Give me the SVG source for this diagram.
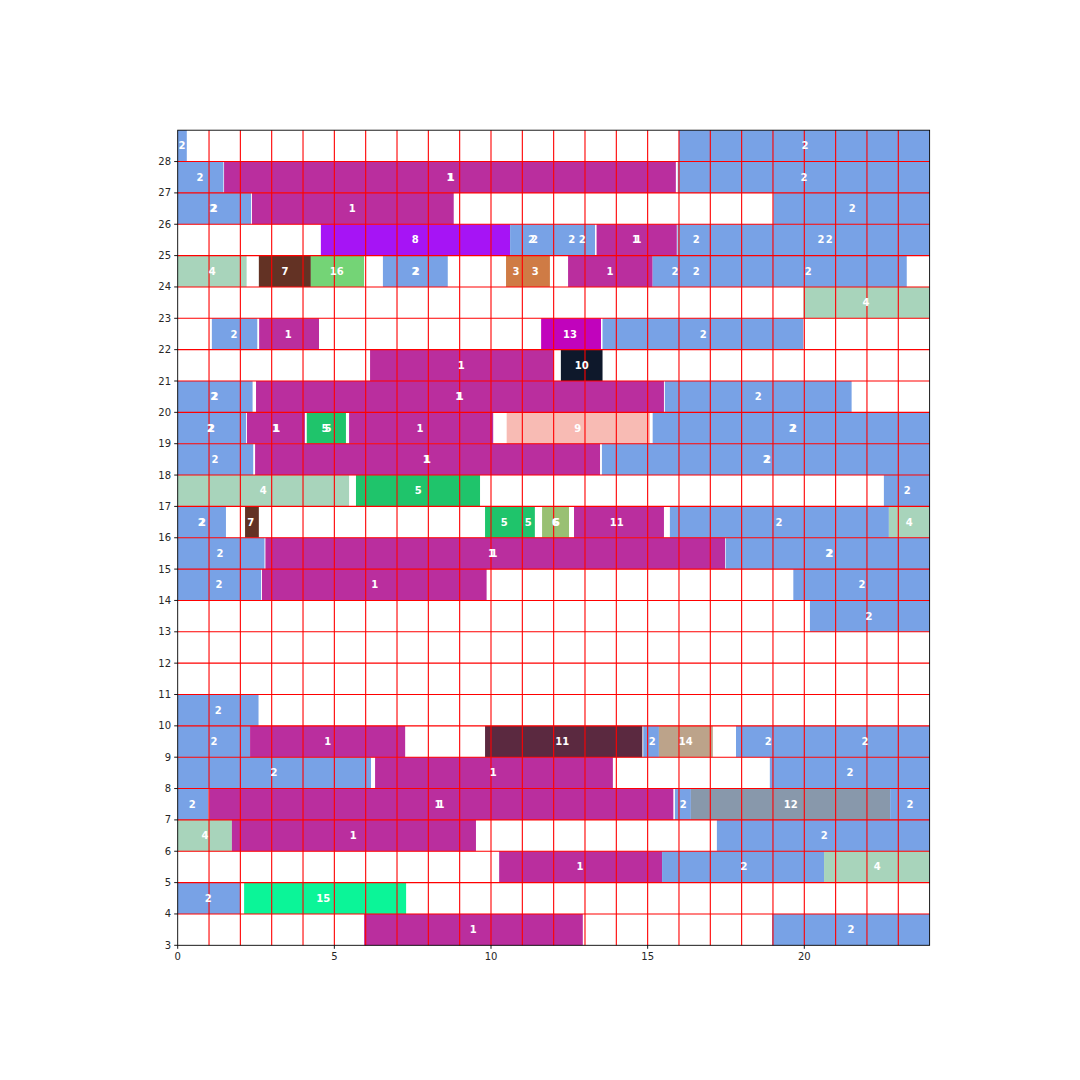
<svg xmlns="http://www.w3.org/2000/svg" width="1080" height="1080" viewBox="0 0 1080 1080">
<style>
.b{fill:#78a2e6}.m{fill:#ba2e9e}.lg{fill:#a8d4bb}.br{fill:#633224}.g16{fill:#74d476}.or{fill:#cf7b45}.vi{fill:#a614f5}.m13{fill:#c103bc}.nv{fill:#0e182b}.sa{fill:#f8bbb4}.g5{fill:#1fc46b}.ol{fill:#99c073}.wi{fill:#5b2940}.tn{fill:#bca38a}.sl{fill:#8898ab}.sp{fill:#0bf598}
text{font-family:"DejaVu Sans","Liberation Sans",sans-serif;font-size:10px}
.l{font-weight:bold;fill:#fff;text-anchor:middle;dominant-baseline:central}
.ty{fill:#262626;text-anchor:end;dominant-baseline:central}
.tx{fill:#262626;text-anchor:middle}
</style>
<rect x="0" y="0" width="1080" height="1080" fill="#fff"/>
<g id="nodes">
<g id="r28a"><rect class="b" x="177.7" y="130.2" width="9.1" height="31.35"/></g>
<g id="r28b"><rect class="b" x="678.98" y="130.2" width="250.64" height="31.35"/></g>
<g id="r27a"><rect class="b" x="177.7" y="161.55" width="45.74" height="31.35"/></g>
<g id="r27b"><rect class="m" x="224.07" y="161.55" width="451.78" height="31.35"/></g>
<g id="r27c"><rect class="b" x="677.73" y="161.55" width="251.89" height="31.35"/></g>
<g id="r26a"><rect class="b" x="177.7" y="192.9" width="73.31" height="31.35"/></g>
<g id="r26b"><rect class="m" x="251.95" y="192.9" width="201.77" height="31.35"/></g>
<g id="r26c"><rect class="b" x="773.28" y="192.9" width="156.34" height="31.35"/></g>
<g id="r25a"><rect class="vi" x="320.88" y="224.25" width="189.23" height="31.35"/></g>
<g id="r25b"><rect class="b" x="510.11" y="224.25" width="84.91" height="31.35"/></g>
<g id="r25c"><rect class="m" x="596.58" y="224.25" width="80.21" height="31.35"/></g>
<g id="r25d"><rect class="b" x="677.41" y="224.25" width="252.21" height="31.35"/></g>
<g id="r24a"><rect class="lg" x="177.7" y="255.6" width="68.93" height="31.35"/></g>
<g id="r24b"><rect class="br" x="258.84" y="255.6" width="52.01" height="31.35"/></g>
<g id="r24c"><rect class="g16" x="310.85" y="255.6" width="53.26" height="31.35"/></g>
<g id="r24d"><rect class="b" x="382.91" y="255.6" width="64.85" height="31.35"/></g>
<g id="r24e"><rect class="or" x="506.04" y="255.6" width="43.86" height="31.35"/></g>
<g id="r24f"><rect class="m" x="568.07" y="255.6" width="84.59" height="31.35"/></g>
<g id="r24g"><rect class="b" x="652.66" y="255.6" width="254.09" height="31.35"/></g>
<g id="r23a"><rect class="lg" x="803.36" y="286.95" width="126.26" height="31.35"/></g>
<g id="r22a"><rect class="b" x="211.85" y="318.3" width="45.43" height="31.35"/></g>
<g id="r22b"><rect class="m" x="259.16" y="318.3" width="59.84" height="31.35"/></g>
<g id="r22c"><rect class="m13" x="541.13" y="318.3" width="59.84" height="31.35"/></g>
<g id="r22d"><rect class="b" x="602.53" y="318.3" width="200.83" height="31.35"/></g>
<g id="r21a"><rect class="m" x="370.07" y="349.65" width="183.9" height="31.35"/></g>
<g id="r21b"><rect class="nv" x="560.87" y="349.65" width="41.66" height="31.35"/></g>
<g id="r20a"><rect class="b" x="177.7" y="381" width="74.88" height="31.35"/></g>
<g id="r20b"><rect class="m" x="256.03" y="381" width="407.91" height="31.35"/></g>
<g id="r20c"><rect class="b" x="664.88" y="381" width="186.73" height="31.35"/></g>
<g id="r19a"><rect class="b" x="177.7" y="412.35" width="68.3" height="31.35"/></g>
<g id="r19b"><rect class="m" x="246.94" y="412.35" width="57.96" height="31.35"/></g>
<g id="r19c"><rect class="g5" x="306.78" y="412.35" width="39.16" height="31.35"/></g>
<g id="r19d"><rect class="m" x="349.08" y="412.35" width="144.11" height="31.35"/></g>
<g id="r19e"><rect class="sa" x="506.67" y="412.35" width="143.17" height="31.35"/></g>
<g id="r19f"><rect class="b" x="652.66" y="412.35" width="276.96" height="31.35"/></g>
<g id="r18a"><rect class="b" x="177.7" y="443.7" width="75.51" height="31.35"/></g>
<g id="r18b"><rect class="m" x="255.09" y="443.7" width="344.94" height="31.35"/></g>
<g id="r18c"><rect class="b" x="601.91" y="443.7" width="327.71" height="31.35"/></g>
<g id="r17a"><rect class="lg" x="177.7" y="475.05" width="171.38" height="31.35"/></g>
<g id="r17b"><rect class="g5" x="355.97" y="475.05" width="124.06" height="31.35"/></g>
<g id="r17c"><rect class="b" x="883.88" y="475.05" width="45.74" height="31.35"/></g>
<g id="r16a"><rect class="b" x="177.7" y="506.4" width="48.25" height="31.35"/></g>
<g id="r16b"><rect class="br" x="245.06" y="506.4" width="13.78" height="31.35"/></g>
<g id="r16c"><rect class="g5" x="485.05" y="506.4" width="49.81" height="31.35"/></g>
<g id="r16d"><rect class="ol" x="542.07" y="506.4" width="26.94" height="31.35"/></g>
<g id="r16e"><rect class="m" x="574.02" y="506.4" width="89.92" height="31.35"/></g>
<g id="r16f"><rect class="b" x="669.89" y="506.4" width="219" height="31.35"/></g>
<g id="r16g"><rect class="lg" x="888.89" y="506.4" width="40.73" height="31.35"/></g>
<g id="r15a"><rect class="b" x="177.7" y="537.75" width="86.78" height="31.35"/></g>
<g id="r15b"><rect class="m" x="265.42" y="537.75" width="459.62" height="31.35"/></g>
<g id="r15c"><rect class="b" x="725.66" y="537.75" width="203.96" height="31.35"/></g>
<g id="r14a"><rect class="b" x="177.7" y="569.1" width="83.34" height="31.35"/></g>
<g id="r14b"><rect class="m" x="261.98" y="569.1" width="224.63" height="31.35"/></g>
<g id="r14c"><rect class="b" x="793.33" y="569.1" width="136.29" height="31.35"/></g>
<g id="r13a"><rect class="b" x="809.94" y="600.45" width="119.68" height="31.35"/></g>
<g id="r10a"><rect class="b" x="177.7" y="694.5" width="80.83" height="31.35"/></g>
<g id="r9a"><rect class="b" x="177.7" y="725.85" width="72.37" height="31.35"/></g>
<g id="r9b"><rect class="m" x="250.07" y="725.85" width="155.09" height="31.35"/></g>
<g id="r9c"><rect class="wi" x="485.05" y="725.85" width="157.27" height="31.35"/></g>
<g id="r9d"><rect class="b" x="643.26" y="725.85" width="15.67" height="31.35"/></g>
<g id="r9e"><rect class="tn" x="658.93" y="725.85" width="53.89" height="31.35"/></g>
<g id="r9f"><rect class="b" x="736" y="725.85" width="193.62" height="31.35"/></g>
<g id="r8a"><rect class="b" x="177.7" y="757.2" width="193.31" height="31.35"/></g>
<g id="r8b"><rect class="m" x="375.08" y="757.2" width="237.79" height="31.35"/></g>
<g id="r8c"><rect class="b" x="769.84" y="757.2" width="159.78" height="31.35"/></g>
<g id="r7a"><rect class="b" x="177.7" y="788.55" width="30.7" height="31.35"/></g>
<g id="r7b"><rect class="m" x="209.34" y="788.55" width="464" height="31.35"/></g>
<g id="r7c"><rect class="b" x="674.91" y="788.55" width="15.98" height="31.35"/></g>
<g id="r7d"><rect class="sl" x="690.89" y="788.55" width="199.25" height="31.35"/></g>
<g id="r7e"><rect class="b" x="890.14" y="788.55" width="39.48" height="31.35"/></g>
<g id="r6a"><rect class="lg" x="177.7" y="819.9" width="54.2" height="31.35"/></g>
<g id="r6b"><rect class="m" x="231.9" y="819.9" width="244.06" height="31.35"/></g>
<g id="r6c"><rect class="b" x="716.89" y="819.9" width="212.73" height="31.35"/></g>
<g id="r5a"><rect class="m" x="499.15" y="851.25" width="162.91" height="31.35"/></g>
<g id="r5b"><rect class="b" x="662.06" y="851.25" width="161.98" height="31.35"/></g>
<g id="r5c"><rect class="lg" x="824.04" y="851.25" width="105.58" height="31.35"/></g>
<g id="r4a"><rect class="b" x="177.7" y="882.6" width="62.66" height="31.35"/></g>
<g id="r4b"><rect class="sp" x="244.12" y="882.6" width="161.98" height="31.35"/></g>
<g id="r3a"><rect class="m" x="364.11" y="913.95" width="218.69" height="31.35"/></g>
<g id="r3b"><rect class="b" x="772.04" y="913.95" width="157.58" height="31.35"/></g>
</g>
<g id="grid" stroke="#ff0000" stroke-width="1.1" fill="none">
<path d="M209.03 130.2V945.3M240.36 130.2V945.3M271.69 130.2V945.3M303.02 130.2V945.3M334.35 130.2V945.3M365.68 130.2V945.3M397.01 130.2V945.3M428.34 130.2V945.3M459.67 130.2V945.3M491 130.2V945.3M522.33 130.2V945.3M553.66 130.2V945.3M584.99 130.2V945.3M616.32 130.2V945.3M647.65 130.2V945.3M678.98 130.2V945.3M710.31 130.2V945.3M741.64 130.2V945.3M772.97 130.2V945.3M804.3 130.2V945.3M835.63 130.2V945.3M866.96 130.2V945.3M898.29 130.2V945.3"/>
<path d="M177.7 913.95H929.62M177.7 882.6H929.62M177.7 851.25H929.62M177.7 819.9H929.62M177.7 788.55H929.62M177.7 757.2H929.62M177.7 725.85H929.62M177.7 694.5H929.62M177.7 663.15H929.62M177.7 631.8H929.62M177.7 600.45H929.62M177.7 569.1H929.62M177.7 537.75H929.62M177.7 506.4H929.62M177.7 475.05H929.62M177.7 443.7H929.62M177.7 412.35H929.62M177.7 381H929.62M177.7 349.65H929.62M177.7 318.3H929.62M177.7 286.95H929.62M177.7 255.6H929.62M177.7 224.25H929.62M177.7 192.9H929.62M177.7 161.55H929.62"/>
</g>
<g id="labels">
<g id="r28a-label"><text class="l" x="182" y="145.9">2</text></g>
<g id="r28b-label"><text class="l" x="805" y="145.9">2</text></g>
<g id="r27a-label"><text class="l" x="200" y="177.2">2</text></g>
<g id="r27b-label"><text class="l" x="450" y="177.2">1</text><text class="l" x="451.3" y="177.2">1</text></g>
<g id="r27c-label"><text class="l" x="804" y="177.2">2</text></g>
<g id="r26a-label"><text class="l" x="213" y="208.6">2</text><text class="l" x="214.3" y="208.6">2</text></g>
<g id="r26b-label"><text class="l" x="352.3" y="208.6">1</text></g>
<g id="r26c-label"><text class="l" x="852.3" y="208.6">2</text></g>
<g id="r25a-label"><text class="l" x="415.3" y="239.9">8</text></g>
<g id="r25b-label"><text class="l" x="531.5" y="239.9">2</text><text class="l" x="534.5" y="239.9">2</text><text class="l" x="571.7" y="239.9">2</text><text class="l" x="582.3" y="239.9">2</text></g>
<g id="r25c-label"><text class="l" x="635.5" y="239.9">1</text><text class="l" x="638" y="239.9">1</text></g>
<g id="r25d-label"><text class="l" x="696.3" y="239.9">2</text><text class="l" x="821" y="239.9">2</text><text class="l" x="829.3" y="239.9">2</text></g>
<g id="r24a-label"><text class="l" x="212.3" y="271.3">4</text></g>
<g id="r24b-label"><text class="l" x="285" y="271.3">7</text></g>
<g id="r24c-label"><text class="l" x="336.7" y="271.3">16</text></g>
<g id="r24d-label"><text class="l" x="415" y="271.3">2</text><text class="l" x="416.3" y="271.3">2</text></g>
<g id="r24e-label"><text class="l" x="516" y="271.3">3</text><text class="l" x="535.3" y="271.3">3</text></g>
<g id="r24f-label"><text class="l" x="610" y="271.3">1</text></g>
<g id="r24g-label"><text class="l" x="675" y="271.3">2</text><text class="l" x="696.3" y="271.3">2</text><text class="l" x="808.3" y="271.3">2</text></g>
<g id="r23a-label"><text class="l" x="866" y="302.6">4</text></g>
<g id="r22a-label"><text class="l" x="234" y="334">2</text></g>
<g id="r22b-label"><text class="l" x="288.3" y="334">1</text></g>
<g id="r22c-label"><text class="l" x="570" y="334">13</text></g>
<g id="r22d-label"><text class="l" x="703.3" y="334">2</text></g>
<g id="r21a-label"><text class="l" x="461.3" y="365.3">1</text></g>
<g id="r21b-label"><text class="l" x="581.7" y="365.3">10</text></g>
<g id="r20a-label"><text class="l" x="213.8" y="396.7">2</text><text class="l" x="215" y="396.7">2</text></g>
<g id="r20b-label"><text class="l" x="458.8" y="396.7">1</text><text class="l" x="460.2" y="396.7">1</text></g>
<g id="r20c-label"><text class="l" x="758.3" y="396.7">2</text></g>
<g id="r19a-label"><text class="l" x="210.2" y="428">2</text><text class="l" x="211.4" y="428">2</text></g>
<g id="r19b-label"><text class="l" x="275.5" y="428">1</text><text class="l" x="276.8" y="428">1</text></g>
<g id="r19c-label"><text class="l" x="325" y="428">5</text><text class="l" x="328" y="428">5</text></g>
<g id="r19d-label"><text class="l" x="420" y="428">1</text></g>
<g id="r19e-label"><text class="l" x="577.7" y="428">9</text></g>
<g id="r19f-label"><text class="l" x="792.2" y="428">2</text><text class="l" x="793.4" y="428">2</text></g>
<g id="r18a-label"><text class="l" x="215" y="459.4">2</text></g>
<g id="r18b-label"><text class="l" x="426.2" y="459.4">1</text><text class="l" x="427.6" y="459.4">1</text></g>
<g id="r18c-label"><text class="l" x="766.2" y="459.4">2</text><text class="l" x="767.4" y="459.4">2</text></g>
<g id="r17a-label"><text class="l" x="263.3" y="490.7">4</text></g>
<g id="r17b-label"><text class="l" x="418.3" y="490.7">5</text></g>
<g id="r17c-label"><text class="l" x="907.3" y="490.7">2</text></g>
<g id="r16a-label"><text class="l" x="201.2" y="522.1">2</text><text class="l" x="202.4" y="522.1">2</text></g>
<g id="r16b-label"><text class="l" x="250.7" y="522.1">7</text></g>
<g id="r16c-label"><text class="l" x="504.3" y="522.1">5</text><text class="l" x="528.3" y="522.1">5</text></g>
<g id="r16d-label"><text class="l" x="555.2" y="522.1">6</text><text class="l" x="556.4" y="522.1">6</text></g>
<g id="r16e-label"><text class="l" x="616.7" y="522.1">11</text></g>
<g id="r16f-label"><text class="l" x="779" y="522.1">2</text></g>
<g id="r16g-label"><text class="l" x="909.3" y="522.1">4</text></g>
<g id="r15a-label"><text class="l" x="220" y="553.4">2</text></g>
<g id="r15b-label"><text class="l" x="491.5" y="553.4">1</text><text class="l" x="494" y="553.4">1</text></g>
<g id="r15c-label"><text class="l" x="828.7" y="553.4">2</text><text class="l" x="830" y="553.4">2</text></g>
<g id="r14a-label"><text class="l" x="219" y="584.8">2</text></g>
<g id="r14b-label"><text class="l" x="374.7" y="584.8">1</text></g>
<g id="r14c-label"><text class="l" x="862" y="584.8">2</text></g>
<g id="r13a-label"><text class="l" x="869" y="616.1">2</text></g>
<g id="r10a-label"><text class="l" x="218.3" y="710.2">2</text></g>
<g id="r9a-label"><text class="l" x="214" y="741.5">2</text></g>
<g id="r9b-label"><text class="l" x="327.7" y="741.5">1</text></g>
<g id="r9c-label"><text class="l" x="562.3" y="741.5">11</text></g>
<g id="r9d-label"><text class="l" x="652.3" y="741.5">2</text></g>
<g id="r9e-label"><text class="l" x="685.7" y="741.5">14</text></g>
<g id="r9f-label"><text class="l" x="768.3" y="741.5">2</text><text class="l" x="865" y="741.5">2</text></g>
<g id="r8a-label"><text class="l" x="274" y="772.9">2</text></g>
<g id="r8b-label"><text class="l" x="493.3" y="772.9">1</text></g>
<g id="r8c-label"><text class="l" x="850" y="772.9">2</text></g>
<g id="r7a-label"><text class="l" x="192.3" y="804.2">2</text></g>
<g id="r7b-label"><text class="l" x="438" y="804.2">1</text><text class="l" x="441" y="804.2">1</text></g>
<g id="r7c-label"><text class="l" x="683.3" y="804.2">2</text></g>
<g id="r7d-label"><text class="l" x="790.7" y="804.2">12</text></g>
<g id="r7e-label"><text class="l" x="910" y="804.2">2</text></g>
<g id="r6a-label"><text class="l" x="205" y="835.6">4</text></g>
<g id="r6b-label"><text class="l" x="353.3" y="835.6">1</text></g>
<g id="r6c-label"><text class="l" x="824.3" y="835.6">2</text></g>
<g id="r5a-label"><text class="l" x="580" y="866.9">1</text></g>
<g id="r5b-label"><text class="l" x="744" y="866.9">2</text></g>
<g id="r5c-label"><text class="l" x="877.3" y="866.9">4</text></g>
<g id="r4a-label"><text class="l" x="208.3" y="898.3">2</text></g>
<g id="r4b-label"><text class="l" x="323.3" y="898.3">15</text></g>
<g id="r3a-label"><text class="l" x="473.3" y="929.6">1</text></g>
<g id="r3b-label"><text class="l" x="851" y="929.6">2</text></g>
</g>
<g id="axes">
<rect x="177.7" y="130.2" width="751.92" height="815.1" fill="none" stroke="#000" stroke-width="0.9"/>
<path stroke="#000" stroke-width="0.9" d="M174.2 945.3H177.7M174.2 913.95H177.7M174.2 882.6H177.7M174.2 851.25H177.7M174.2 819.9H177.7M174.2 788.55H177.7M174.2 757.2H177.7M174.2 725.85H177.7M174.2 694.5H177.7M174.2 663.15H177.7M174.2 631.8H177.7M174.2 600.45H177.7M174.2 569.1H177.7M174.2 537.75H177.7M174.2 506.4H177.7M174.2 475.05H177.7M174.2 443.7H177.7M174.2 412.35H177.7M174.2 381H177.7M174.2 349.65H177.7M174.2 318.3H177.7M174.2 286.95H177.7M174.2 255.6H177.7M174.2 224.25H177.7M174.2 192.9H177.7M174.2 161.55H177.7M177.7 945.3V948.8M334.35 945.3V948.8M491 945.3V948.8M647.65 945.3V948.8M804.3 945.3V948.8"/>
<text class="ty" x="171" y="945.3">3</text>
<text class="ty" x="171" y="913.95">4</text>
<text class="ty" x="171" y="882.6">5</text>
<text class="ty" x="171" y="851.25">6</text>
<text class="ty" x="171" y="819.9">7</text>
<text class="ty" x="171" y="788.55">8</text>
<text class="ty" x="171" y="757.2">9</text>
<text class="ty" x="171" y="725.85">10</text>
<text class="ty" x="171" y="694.5">11</text>
<text class="ty" x="171" y="663.15">12</text>
<text class="ty" x="171" y="631.8">13</text>
<text class="ty" x="171" y="600.45">14</text>
<text class="ty" x="171" y="569.1">15</text>
<text class="ty" x="171" y="537.75">16</text>
<text class="ty" x="171" y="506.4">17</text>
<text class="ty" x="171" y="475.05">18</text>
<text class="ty" x="171" y="443.7">19</text>
<text class="ty" x="171" y="412.35">20</text>
<text class="ty" x="171" y="381">21</text>
<text class="ty" x="171" y="349.65">22</text>
<text class="ty" x="171" y="318.3">23</text>
<text class="ty" x="171" y="286.95">24</text>
<text class="ty" x="171" y="255.6">25</text>
<text class="ty" x="171" y="224.25">26</text>
<text class="ty" x="171" y="192.9">27</text>
<text class="ty" x="171" y="161.55">28</text>
<text class="tx" x="177.7" y="960">0</text>
<text class="tx" x="334.35" y="960">5</text>
<text class="tx" x="491" y="960">10</text>
<text class="tx" x="647.65" y="960">15</text>
<text class="tx" x="804.3" y="960">20</text>
</g>
</svg>
